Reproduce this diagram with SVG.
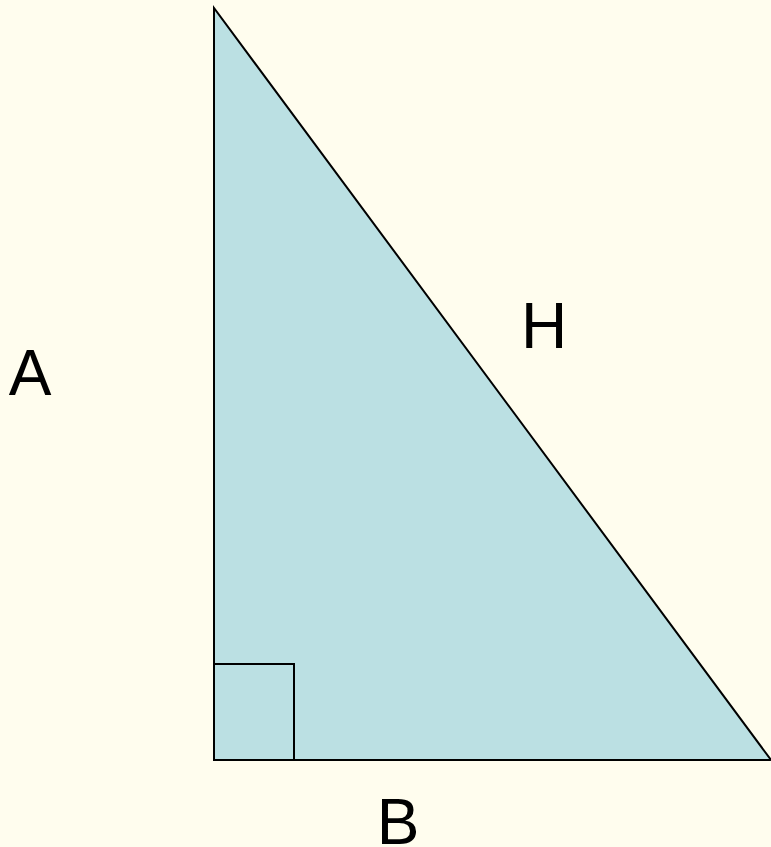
<svg xmlns="http://www.w3.org/2000/svg" width="771" height="847" viewBox="0 0 771 847">
<style>
.lbl{font-family:"Liberation Sans",Arial,sans-serif;font-size:64px;fill:#000;text-anchor:middle}
.ln{fill:none;stroke:#000;stroke-width:2}
</style>
<rect width="771" height="847" fill="#FFFDEE"/>
<g id="triangle">
<polygon points="214,8 214,760 771,760" fill="#BBE0E3" stroke="#000" stroke-width="2" stroke-linejoin="miter"/>
</g>
<g id="right-angle">
<polyline class="ln" points="214,664 294,664 294,760"/>
</g>
<g id="label-A"><text class="lbl" x="30" y="395">A</text></g>
<g id="label-H"><text class="lbl" x="544" y="348">H</text></g>
<g id="label-B"><text class="lbl" x="398" y="844">B</text></g>
</svg>
